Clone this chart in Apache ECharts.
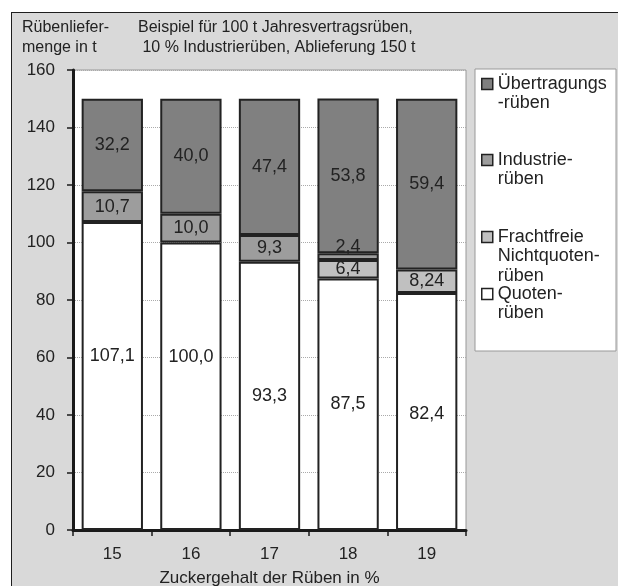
<!DOCTYPE html>
<html>
<head>
<meta charset="utf-8">
<script src="https://cdn.jsdelivr.net/npm/echarts@6/dist/echarts.min.js"></script>
<style>
  html, body { margin: 0; padding: 0; background: #fff; }
  #panel {
    position: absolute; left: 11px; top: 12px; width: 640px; height: 620px;
    background: #d9d9d9; border-left: 1.5px solid #1e1e1e; border-top: 1.5px solid #1e1e1e;
  }
  #chart { position: absolute; left: 0; top: 0; width: 618px; height: 586px; }
</style>
</head>
<body>
<div id="panel"></div>
<div id="chart"></div>
<script>
// Zuckergehalt der Rüben (%) on the category axis
const categories = ['15', '16', '17', '18', '19'];

// Delivered beet quantities in t, stacked from bottom to top
const quotenRueben = [107.1, 100.0, 93.3, 87.5, 82.4];
const frachtfreieNichtquoten = [null, null, null, 6.4, 8.24];
const industrieRueben = [10.7, 10.0, 9.3, 2.4, null];
const uebertragungsRueben = [32.2, 40.0, 47.4, 53.8, 59.4];

// Value axis ticks
const yTicks = [0, 20, 40, 60, 80, 100, 120, 140, 160];

const FONT = "'Liberation Sans', Arial, sans-serif";
const TEXT = '#222';
const LINE_H = 19.5;

// German decimal format, at least one decimal place
function fmt(v) {
  let s = String(v);
  if (s.indexOf('.') < 0) s += '.0';
  return s.replace('.', ',');
}

// vertical label nudges (pixels) for single segments
const quotenLabelShift = { 0: -20, 1: -29, 4: 2 };
const industrieLabelShift = { 3: -10 };

function withLabels(arr, shift) {
  return arr.map((v, i) => {
    if (v !== null && shift && shift[i] !== undefined) {
      return { value: v, label: { offset: [0, shift[i]] } };
    }
    return v;
  });
}

const barLabel = {
  show: true,
  position: 'inside',
  color: TEXT,
  fontSize: 18,
  fontFamily: FONT,
  formatter: p => fmt(p.value)
};

const barItem = color => ({ color: color, borderColor: '#222', borderWidth: 2 });

// one legend block per entry; leading blank lines keep the marker beside the first text line
function legendItem(name, firstLineCenter, lines) {
  const blockHeight = (2 * lines - 1) * LINE_H;
  return {
    data: [name],
    left: 481,
    top: firstLineCenter - blockHeight / 2,
    orient: 'vertical',
    padding: 0,
    icon: 'rect',
    itemWidth: 11,
    itemHeight: 11,
    selectedMode: false,
    itemStyle: { borderColor: '#222', borderWidth: 1.5 },
    formatter: n => '\n'.repeat(lines - 1) + n,
    textStyle: { fontSize: 18, lineHeight: LINE_H, color: TEXT, fontFamily: FONT }
  };
}

const chart = echarts.init(document.getElementById('chart'), null, { renderer: 'canvas' });

chart.setOption({
  backgroundColor: 'transparent',
  animation: false,
  textStyle: { fontFamily: FONT, color: TEXT },
  title: [
    {
      text: 'Rübenliefer-\nmenge in t',
      left: 22, top: 18, padding: 0,
      textStyle: { fontSize: 16, lineHeight: LINE_H, fontWeight: 'normal', color: TEXT, fontFamily: FONT }
    },
    {
      text: 'Beispiel für 100 t Jahresvertragsrüben,\n 10 % Industrierüben, Ablieferung 150 t',
      left: 138, top: 18, padding: 0,
      textStyle: { fontSize: 16, lineHeight: LINE_H, fontWeight: 'normal', color: TEXT, fontFamily: FONT }
    }
  ],
  graphic: [
    {
      type: 'rect', z: 1,
      shape: { x: 475, y: 69, width: 141, height: 282 },
      style: { fill: '#fff', stroke: '#999', lineWidth: 1 }
    }
  ],
  legend: [
    legendItem('Übertragungs\n-rüben', 84, 2),
    legendItem('Industrie-\nrüben', 160, 2),
    legendItem('Frachtfreie\nNichtquoten-\nrüben', 237, 3),
    legendItem('Quoten-\nrüben', 294, 2)
  ],
  grid: {
    left: 73, right: 152, top: 70, bottom: 56,
    outerBoundsMode: 'none',
    containLabel: false,
    show: true, backgroundColor: '#fff', borderColor: '#999', borderWidth: 1
  },
  xAxis: {
    type: 'category',
    data: categories,
    name: 'Zuckergehalt der Rüben in %',
    nameLocation: 'middle',
    nameGap: 40,
    nameTextStyle: { fontSize: 17, color: TEXT, fontFamily: FONT },
    axisLine: { lineStyle: { color: '#1a1a1a', width: 3 } },
    axisTick: { show: true, length: 6, alignWithLabel: false, lineStyle: { color: '#1a1a1a', width: 1.5 } },
    axisLabel: { fontSize: 17, color: TEXT, margin: 16, fontFamily: FONT },
    splitLine: { show: false }
  },
  yAxis: {
    type: 'value',
    min: yTicks[0],
    max: yTicks[yTicks.length - 1],
    interval: yTicks[1] - yTicks[0],
    axisLine: { show: true, lineStyle: { color: '#1a1a1a', width: 3 } },
    axisTick: { show: true, length: 6, lineStyle: { color: '#1a1a1a', width: 1.5 } },
    axisLabel: { fontSize: 17, color: TEXT, margin: 18, fontFamily: FONT },
    splitLine: { show: true, lineStyle: { color: '#aaa', type: 'dotted', width: 1 } }
  },
  series: [
    {
      name: 'Quoten-\nrüben', type: 'bar', stack: 'menge', barWidth: '78%',
      itemStyle: barItem('#ffffff'), label: barLabel,
      data: withLabels(quotenRueben, quotenLabelShift)
    },
    {
      name: 'Frachtfreie\nNichtquoten-\nrüben', type: 'bar', stack: 'menge', barWidth: '78%',
      itemStyle: barItem('#c0c0c0'), label: barLabel,
      data: withLabels(frachtfreieNichtquoten)
    },
    {
      name: 'Industrie-\nrüben', type: 'bar', stack: 'menge', barWidth: '78%',
      itemStyle: barItem('#9d9d9d'), label: barLabel,
      data: withLabels(industrieRueben, industrieLabelShift)
    },
    {
      name: 'Übertragungs\n-rüben', type: 'bar', stack: 'menge', barWidth: '78%',
      itemStyle: barItem('#808080'), label: barLabel,
      data: withLabels(uebertragungsRueben)
    }
  ]
});
</script>
</body>
</html>
